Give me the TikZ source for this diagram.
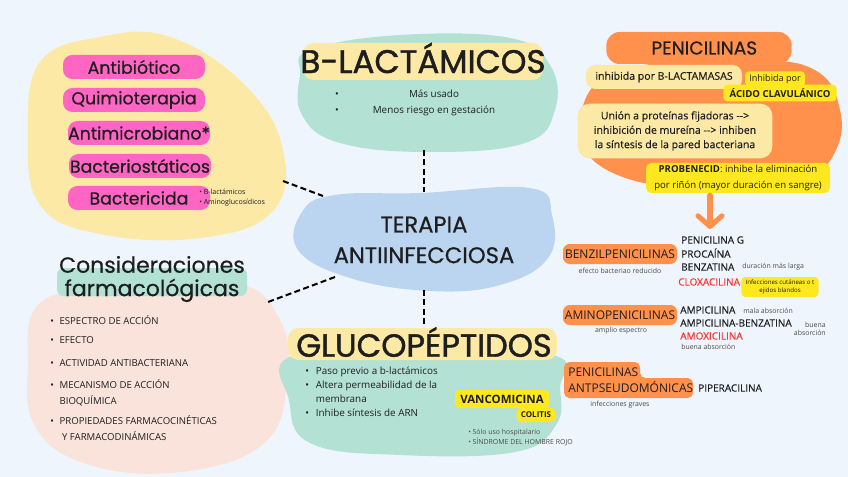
\documentclass[tikz,border=0pt]{standalone}
\usepackage{fontspec}
\setmainfont{Open Sans}
\newfontfamily\pop{Poppins}[FakeBold=0.6]
\newfontfamily\popb{Poppins}[FakeBold=1.3]
\newfontfamily\osm{Open Sans}[FakeBold=0.35]
\usetikzlibrary{positioning,arrows.meta}
\definecolor{bgc}{HTML}{EEF5FD}
\definecolor{pinkc}{HTML}{FF66C4}
\definecolor{creamc}{HTML}{FCE9A6}
\definecolor{mintc}{HTML}{B3E2D4}
\definecolor{skyc}{HTML}{BBD4F0}
\definecolor{peachc}{HTML}{F9E3DA}
\definecolor{orangec}{HTML}{FF914D}
\definecolor{lemonc}{HTML}{FFE81F}
\definecolor{redc}{HTML}{FF3131}
\definecolor{inkc}{HTML}{1E1E1E}
\tikzset{>=latex}
\tikzset{
  pill/.style={fill=pinkc, rounded corners=7pt, minimum width=106.5pt, minimum height=18pt, inner sep=0pt, font=\pop\fontsize{13}{15}\selectfont},
  conn/.style={line width=1.5pt, dash pattern=on 4.5pt off 2.5pt},
  tag/.style={fill=orangec, rounded corners=5pt, minimum height=15pt, minimum width=85.5pt, inner sep=0pt, font=\fontsize{9}{10}\selectfont},
  hl/.style={fill=lemonc, rounded corners=3pt, inner sep=0pt},
  note/.style={inner sep=0pt, text=inkc!80, font=\fontsize{5.2}{6.5}\selectfont},
  drug/.style={anchor=west, inner sep=0pt, font=\osm\fontsize{7.5}{9}\selectfont},
  item/.style={anchor=west, inner sep=0pt, align=left, font=\fontsize{7.2}{12}\selectfont},
  bul/.style={inner sep=0pt, align=left, font=\fontsize{7.4}{10.5}\selectfont},
}
\begin{document}
\begin{tikzpicture}[x=0.75pt,y=-0.75pt, text=inkc]
	\fill[bgc] (0,0) rectangle (848,477);
	% blobs
	\fill[creamc] plot[smooth cycle, tension=0.7] coordinates {(40,62) (100,37) (170,37) (245,85) (283,150) (272,212) (200,238) (100,234) (40,205) (28,135)};
	\fill[mintc] plot[smooth cycle, tension=0.7] coordinates {(310,50) (400,35) (510,38) (550,65) (555,110) (525,143) (430,152) (340,143) (302,115) (300,75)};
	\fill[skyc] plot[smooth cycle, tension=0.7] coordinates {(302,212) (335,195) (420,193) (530,188) (552,215) (548,258) (500,285) (430,291) (350,278) (298,250)};
	\fill[peachc] plot[smooth cycle, tension=0.7] coordinates {(38,305) (100,290) (230,282) (280,320) (287,385) (262,445) (180,472) (90,465) (36,428) (28,365)};
	\fill[mintc] plot[smooth cycle, tension=0.7] coordinates {(292,356) (420,352) (553,355) (560,388) (556,425) (515,452) (400,455) (310,443) (289,400)};
	\fill[orangec] plot[smooth cycle, tension=0.7] coordinates {(580,120) (598,82) (650,64) (760,60) (818,72) (840,110) (836,150) (808,176) (740,188) (680,188) (620,176) (584,150)};

	% connectors
	\coordinate (bl-s) at (424,150);
	\coordinate (ter-n) at (424,192);
	\coordinate (ter-s) at (424,290);
	\coordinate (glu-n) at (424,325);
	\coordinate (yel-e) at (283,181);
	\coordinate (ter-w) at (323,196);
	\coordinate (ter-sw) at (335,277);
	\coordinate (con-e) at (268,302);
	\draw[conn] (bl-s) -- (ter-n);
	\draw[conn] (ter-s) -- (glu-n);
	\draw[conn] (yel-e) -- (ter-w);
	\draw[conn] (ter-sw) -- (con-e);

	% terms
	\node[pill] (antib) at (134,67) {Antibiótico};
	\node[pill] (quimio) at (134,100) {Quimioterapia};
	\node[pill] (antim) at (139,133) {Antimicrobiano*};
	\node[pill] (bstat) at (140,166) {Bacteriostáticos};
	\node[pill] (bcida) at (139,198) {Bactericida};
	\node[bul, anchor=west, font=\fontsize{5.3}{7.5}\selectfont] (bcida-l) at (199,198) {\textbullet\ B-lactámicos\\\textbullet\ Aminoglucosídicos};

	% b-lactamicos
	\fill[creamc, rounded corners=8pt] (303,43) rectangle (543,80);
	\node[font=\popb\fontsize{24.5}{28}\selectfont, inner sep=0pt] (blact) at (423,58) {B-LACTÁMICOS};
	\node[bul, align=center, font=\fontsize{7.4}{12}\selectfont] (blact-b) at (337,103) {\textbullet\\\textbullet};
	\node[bul, align=center, font=\fontsize{7.4}{12}\selectfont] (blact-t) at (434,103) {Más usado\\Menos riesgo en gestación};

	\node[font=\pop\fontsize{17}{23}\selectfont, align=center] (terapia) at (424,240) {TERAPIA\\ANTIINFECCIOSA};

	% consideraciones
	\fill[mintc, rounded corners=5pt] (57,268) rectangle (247,296);
	\node[font=\pop\fontsize{16.5}{17.5}\selectfont, align=center] (cons) at (152,279) {Consideraciones\\farmacológicas};
	\foreach \y/\t [count=\i] in {320/ESPECTRO DE ACCIÓN, 340/EFECTO, 363/ACTIVIDAD ANTIBACTERIANA, 393/{MECANISMO DE ACCIÓN\\\hspace*{7pt}BIOQUÍMICA}, 428/{PROPIEDADES FARMACOCINÉTICAS\\\hspace*{7pt} Y FARMACODINÁMICAS}}
		\node[item] (cons-\i) at (50,\y) {\makebox[7pt][l]{\textbullet}\t};

	% glucopeptidos
	\fill[creamc, rounded corners=8pt] (288,328) rectangle (557,360);
	\node[font=\popb\fontsize{24}{28}\selectfont, inner sep=0pt] (gluco) at (424,342) {GLUCOPÉPTIDOS};
	\node[bul, anchor=north west] (gluco-l) at (305,367) {\makebox[8pt][l]{\textbullet}Paso previo a b-lactámicos\\\makebox[8pt][l]{\textbullet}Altera permeabilidad de la\\\hspace*{8pt}membrana\\\makebox[8pt][l]{\textbullet}Inhibe síntesis de ARN};
	\node[hl, minimum width=70.5pt, minimum height=13.5pt, font=\bfseries\fontsize{8.6}{10}\selectfont] (vanco) at (502,399) {VANCOMICINA};
	\node[hl, minimum width=29pt, minimum height=10.5pt, font=\bfseries\fontsize{6}{7}\selectfont] (colitis) at (536,415) {COLITIS};
	\node[note, anchor=west, align=left, font=\fontsize{5.2}{7.5}\selectfont] (vanco-l) at (468,437) {\textbullet\ Sólo uso hospitalario\\\textbullet\ SÍNDROME DEL HOMBRE ROJO};

	% penicilinas
	\node[fill=orangec, rounded corners=10pt, minimum width=139pt, minimum height=24pt, font=\pop\fontsize{13.9}{16}\selectfont] (penic) at (699,48) {\hspace*{8pt}PENICILINAS};
	\node[fill=creamc, rounded corners=7pt, minimum width=117pt, minimum height=18pt, inner sep=0pt, font=\osm\fontsize{7.9}{9}\selectfont] (lactam) at (664,77) {inhibida por B-LACTAMASAS};
	\node[hl, minimum width=45pt, minimum height=11.5pt, font=\fontsize{6.8}{8}\selectfont] (clav1) at (775,79) {Inhibida por};
	\node[hl, minimum width=85pt, minimum height=12.5pt, font=\bfseries\fontsize{7.2}{8}\selectfont] (clav2) at (780,93) {ÁCIDO CLAVULÁNICO};
	\node[fill=creamc, rounded corners=9pt, minimum width=146pt, minimum height=41pt, inner sep=0pt, align=center, font=\osm\fontsize{7.9}{10.8}\selectfont] (union) at (675,131) {Unión a proteínas fijadoras -{}->\\inhibición de mureína -{}-> inhiben\\la síntesis de la pared bacteriana};
	\node[hl, rounded corners=4pt, minimum width=138pt, minimum height=22.5pt, align=center, font=\fontsize{7.2}{11.5}\selectfont] (probe) at (738,178) {\textbf{PROBENECID}: inhibe la eliminación\\por riñón (mayor duración en sangre)};
	\coordinate (tip) at (710,229);
	\draw[orangec, line width=3.8pt, line cap=round, -{Straight Barb[length=8pt, width=18pt, round]}] (probe.south -| tip) ++(0,2) -- (tip);

	% groups
	\node[tag] (benzil) at (620,254) {BENZILPENICILINAS};
	\node[note] (benzil-n) at (620,271) {efecto bacteriao reducido};
	\node[drug] (peng) at (681,240) {PENICILINA G};
	\node[drug] (proca) at (681,253) {PROCAÍNA};
	\node[drug] (benza) at (681,267) {BENZATINA};
	\node[note, anchor=west] (benza-n) at (742,267) {duración más larga};
	\node[drug, text=redc] (cloxa) at (678,282) {CLOXACILINA};
	\node[hl, minimum width=58pt, minimum height=15pt, align=center, font=\fontsize{4.6}{6.5}\selectfont] (cloxa-n) at (780,287) {Infecciones cutáneas o t\\ejidos blandos};

	\node[tag] (amino) at (620,315) {AMINOPENICILINAS};
	\node[note] (amino-n) at (621,331) {amplio espectro};
	\node[drug] (ampi) at (680,310) {AMPICILINA};
	\node[note, anchor=west] (ampi-n) at (743,311) {mala absorción};
	\node[drug] (ampib) at (680,323) {AMPICILINA-BENZATINA};
	\node[note, anchor=east, align=right] (ampib-n) at (826,329) {buena\\absorción};
	\node[drug, text=redc] (amox) at (680,336) {AMOXICILINA};
	\node[note, anchor=west] (amox-n) at (681,347) {buena absorción};

	\fill[orangec, rounded corners=4pt] (564,362) -- (640,362) -- (640,378) -- (693,378) -- (693,398) -- (564,398) -- cycle;
	\node[anchor=west, inner sep=0pt, align=left, font=\fontsize{9}{12}\selectfont] (pseudo) at (568,380) {PENICILINAS\\ANTPSEUDOMÓNICAS};
	\node[drug] (pipera) at (698,388) {PIPERACILINA};
	\node[note] (pseudo-n) at (620,405) {infecciones graves};
\end{tikzpicture}
\end{document}
